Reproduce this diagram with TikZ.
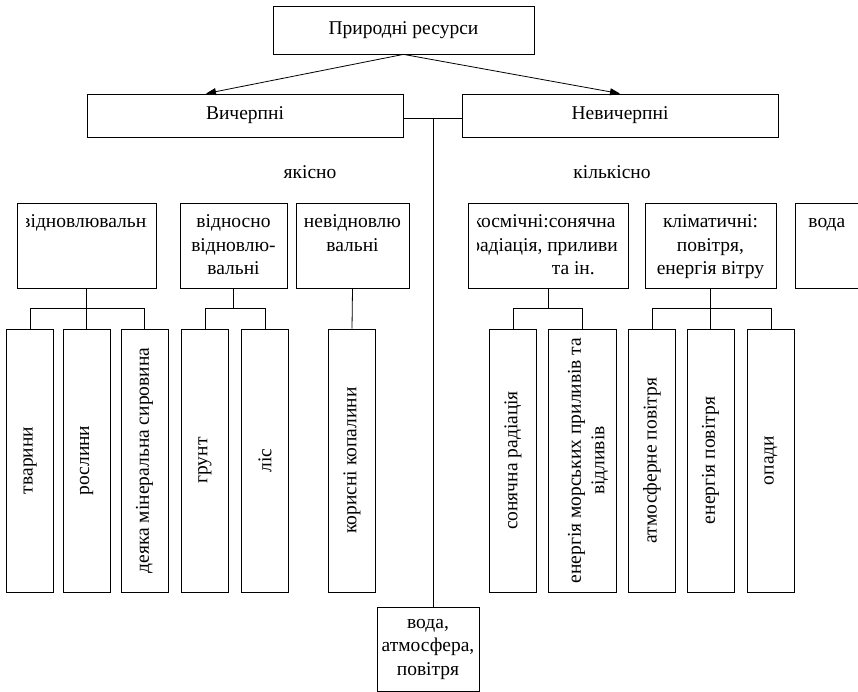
\documentclass[tikz,border=0pt]{standalone}
\usepackage{fontspec}
\setmainfont{Liberation Serif}
\usetikzlibrary{arrows.meta}

\begin{document}
\begin{tikzpicture}[x=1pt,y=1pt,line width=0.8pt,
    font=\fontsize{19.5}{23.5}\selectfont,
    box/.style={draw,rectangle,inner sep=0pt,align=center},
    toptxt/.style={anchor=base,align=center,inner sep=0pt},
    leaf/.style={draw,rectangle,minimum width=47,minimum height=263},
    vtext/.style={rotate=90,align=center,inner sep=0pt},
    arr/.style={-{Triangle[length=10pt,width=7pt]}}]
      \useasboundingbox (0,0) rectangle (858,692);
      \draw
        (403.5,662) node[box,minimum width=261,minimum height=48] (res){Природні ресурси}
        (245,576.5) node[box,minimum width=316,minimum height=43] (vych){Вичерпні}
        (620,576.5) node[box,minimum width=316,minimum height=43] (nevych){Невичерпні}
        (428,43) node[box,minimum width=102,minimum height=84] (air){вода,\\атмосфера,\\повітря}
        (310,520) node[] (qual){якісно}
        (612,520) node[] (quant){кількісно};
      \coordinate (hub) at (433,574);
      \draw
        (86.5,446.5) node[box,minimum width=139,minimum height=85] (renew){}
        (233.5,446.5) node[box,minimum width=107,minimum height=85] (relren){}
        (352.5,446.5) node[box,minimum width=113,minimum height=85] (nonren){}
        (548,446.5) node[box,minimum width=160,minimum height=85] (cosmic){}
        (710.5,446.5) node[box,minimum width=131,minimum height=85] (climat){}
        (845,446.5) node[box,minimum width=100,minimum height=85] (water){};
      \begin{scope}
        \clip (26,404) rectangle (146,489);
        \node[toptxt] (renew-t) at (86.5,464) {відновлювальні};
      \end{scope}
      \begin{scope}
        \clip (477,404) rectangle (620,489);
        \node[toptxt] (cosmic-t) at (544,417) {космічні:сонячна\\радіація, приливи\\\hspace*{3em}та ін.};
      \end{scope}
      \node[toptxt] (relren-t) at (233.5,417) {відносно\\відновлю-\\вальні};
      \node[toptxt] (nonren-t) at (352.5,440.5) {невідновлю\\вальні};
      \node[toptxt] (climat-t) at (710.5,417) {кліматичні:\\повітря,\\енергія вітру};
      \node[toptxt,anchor=base west] (water-t) at (808,464) {вода};
      \draw
        (30,231.5) node[leaf,label={[vtext]center:тварини}] (tvar){}
        (86.5,231.5) node[leaf,label={[vtext]center:рослини}] (rosl){}
        (144.5,231.5) node[leaf,label={[vtext]center:деяка мінеральна сировина}] (miner){}
        (205,231.5) node[leaf,label={[vtext]center:грунт}] (grunt){}
        (265,231.5) node[leaf,label={[vtext]center:ліс}] (lis){}
        (352,231.5) node[leaf,label={[vtext]center:корисні копалини}] (kopal){}
        (513,231.5) node[leaf,label={[vtext]center:сонячна радіація}] (solar){}
        (582,231.5) node[leaf,minimum width=68,label={[vtext,yshift=-6pt]center:енергія морських приливів та\\відливів}] (tidal){}
        (652,231.5) node[leaf,label={[vtext]center:атмосферне повітря}] (atmo){}
        (710.5,231.5) node[leaf,label={[vtext]center:енергія повітря}] (windp){}
        (771,231.5) node[leaf,label={[vtext]center:опади}] (opadi){};
      \begin{scope}[-]
        \draw[arr] (res.south) -- ([xshift=-39pt]vych.north);
        \draw[arr] (res.south) -- (nevych.north);
        \draw (vych.east |- hub) -- (nevych.west |- hub);
        \draw (hub) -- (hub |- air.north);
        \draw (renew.south) -- (rosl.north);
        \draw (tvar.north) -- ++(0,20) -| (miner.north);
        \draw (relren.south) -- ++(0,-21);
        \draw (grunt.north) -- ++(0,20) -| (lis.north);
        \draw (nonren.south) -- (kopal.north);
        \draw (cosmic.south) -- ++(0,-21);
        \draw (solar.north) -- ++(0,20) -| (tidal.north);
        \draw (climat.south) -- (windp.north);
        \draw (atmo.north) -- ++(0,20) -| (opadi.north);
      \end{scope}
    \end{tikzpicture}
\end{document}
